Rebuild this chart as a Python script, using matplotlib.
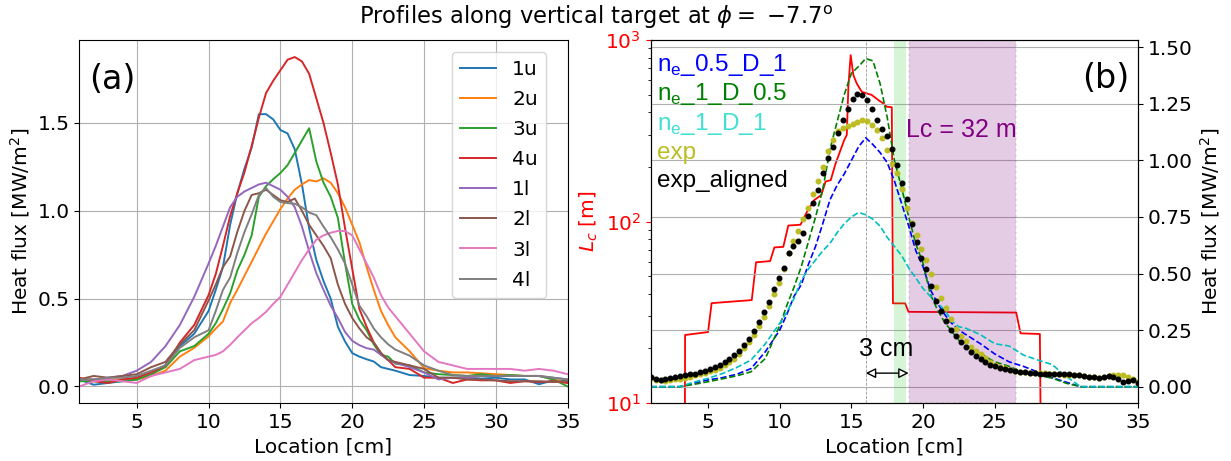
import numpy as np
import matplotlib
matplotlib.use('Agg')
import matplotlib.pyplot as plt

# ---------------- data ----------------
loc = [1, 2, 3, 4, 5, 6, 7, 8, 9, 10,
       10.5, 11, 11.5, 12, 12.5, 13, 13.5, 14, 14.5, 15,
       15.5, 16, 16.5, 17, 17.5, 18, 18.5, 19, 19.5, 20,
       20.5, 21, 21.5, 22, 22.5, 23,
       24, 25, 26, 27, 28, 29, 30, 31, 32, 33, 34, 35]

labels_a = ['1u', '2u', '3u', '4u', '1l', '2l', '3l', '4l']

q_1u = [0.04, 0.01, 0.02, 0.03, 0.04, 0.066, 0.123, 0.23, 0.30, 0.43,
        0.55, 0.68, 0.92, 1.10, 1.24, 1.36, 1.55, 1.55, 1.52, 1.46,
        1.44, 1.35, 1.15, 0.90, 0.72, 0.60, 0.50, 0.34, 0.256, 0.19,
        0.17, 0.155, 0.142, 0.11, 0.10, 0.09,
        0.065, 0.06, 0.05, 0.05, 0.05, 0.045, 0.05, 0.04, 0.04, 0.013, 0.035, 0.03]
q_2u = [0.04, 0.04, 0.04, 0.04, 0.04, 0.06, 0.09, 0.17, 0.22, 0.285,
        0.33, 0.37, 0.475, 0.55, 0.63, 0.71, 0.79, 0.87, 0.94, 1.01,
        1.07, 1.12, 1.15, 1.175, 1.167, 1.185, 1.16, 1.10, 1.02, 0.92,
        0.82, 0.68, 0.55, 0.43, 0.35, 0.28,
        0.20, 0.105, 0.09, 0.08, 0.08, 0.075, 0.07, 0.065, 0.06, 0.06, 0.04, 0.02]
q_3u = [0.03, 0.03, 0.03, 0.03, 0.04, 0.07, 0.11, 0.20, 0.23, 0.30,
        0.36, 0.44, 0.53, 0.66, 0.75, 0.86, 1.08, 1.14, 1.18, 1.215,
        1.26, 1.33, 1.40, 1.47, 1.28, 1.16, 1.08, 0.96, 0.70, 0.47,
        0.38, 0.32, 0.24, 0.18, 0.17, 0.13,
        0.12, 0.08, 0.07, 0.065, 0.06, 0.07, 0.06, 0.065, 0.06, 0.06, 0.04, 0.0]
q_4u = [0.05, 0.03, 0.02, 0.04, 0.05, 0.08, 0.12, 0.25, 0.35, 0.52,
        0.64, 0.80, 0.97, 1.10, 1.22, 1.37, 1.53, 1.67, 1.74, 1.80,
        1.86, 1.875, 1.85, 1.78, 1.64, 1.50, 1.33, 1.15, 0.90, 0.67,
        0.44, 0.34, 0.25, 0.19, 0.15, 0.11,
        0.10, 0.05, 0.05, 0.02, 0.04, 0.035, 0.035, 0.02, 0.03, 0.025, 0.03, 0.02]
q_1l = [0.04, 0.04, 0.05, 0.06, 0.09, 0.14, 0.23, 0.35, 0.51, 0.70,
        0.80, 0.91, 1.02, 1.08, 1.11, 1.13, 1.15, 1.16, 1.14, 1.12,
        1.08, 1.02, 0.91, 0.77, 0.645, 0.55, 0.46, 0.39, 0.31, 0.26,
        0.235, 0.218, 0.21, 0.18, 0.15, 0.135,
        0.11, 0.08, 0.04, 0.05, 0.05, 0.06, 0.06, 0.06, 0.06, 0.06, 0.05, 0.04]
q_2l = [0.04, 0.06, 0.05, 0.06, 0.07, 0.11, 0.14, 0.24, 0.32, 0.49,
        0.58, 0.68, 0.74, 0.88, 1.00, 1.09, 1.10, 1.12, 1.09, 1.06,
        1.05, 1.07, 1.00, 0.92, 0.86, 0.80, 0.73, 0.58, 0.47, 0.39,
        0.33, 0.28, 0.25, 0.19, 0.15, 0.14,
        0.12, 0.10, 0.05, 0.05, 0.04, 0.04, 0.035, 0.03, 0.03, 0.03, 0.025, 0.03]
q_3l = [0.0, 0.03, 0.04, 0.03, 0.02, 0.06, 0.08, 0.10, 0.15, 0.17,
        0.18, 0.20, 0.237, 0.28, 0.32, 0.36, 0.39, 0.425, 0.47, 0.51,
        0.58, 0.65, 0.72, 0.78, 0.835, 0.86, 0.875, 0.885, 0.885, 0.86,
        0.78, 0.70, 0.62, 0.52, 0.45, 0.40,
        0.30, 0.20, 0.14, 0.12, 0.10, 0.10, 0.10, 0.10, 0.09, 0.10, 0.09, 0.07]
q_4l = [0.04, 0.04, 0.05, 0.05, 0.06, 0.09, 0.12, 0.22, 0.28, 0.32,
        0.43, 0.55, 0.62, 0.76, 0.88, 0.98, 1.09, 1.13, 1.08, 1.05,
        1.044, 1.04, 1.02, 0.99, 0.975, 0.91, 0.85, 0.78, 0.70, 0.58,
        0.46, 0.40, 0.33, 0.28, 0.24, 0.21,
        0.175, 0.12, 0.09, 0.065, 0.06, 0.06, 0.06, 0.06, 0.06, 0.06, 0.05, 0.04]

# simulations (panel b)
sim_ne05_D1 = [0, 0, 0, 0.015, 0.03, 0.04, 0.055, 0.08, 0.155, 0.25,
               0.32, 0.40, 0.45, 0.54, 0.62, 0.72, 0.825, 0.89, 0.94, 1.0,
               1.06, 1.10, 1.07, 1.035, 0.99, 0.91, 0.81, 0.71, 0.60, 0.53,
               0.43, 0.37, 0.32, 0.28, 0.25, 0.23,
               0.19, 0.145, 0.11, 0.09, 0.065, 0.04, 0.02, 0, 0, 0, 0, 0]
sim_ne1_D05 = [0, 0, 0, 0.01, 0.022, 0.035, 0.048, 0.066, 0.125, 0.27,
               0.36, 0.44, 0.53, 0.64, 0.75, 0.87, 1.046, 1.17, 1.29, 1.385,
               1.415, 1.45, 1.44, 1.34, 1.19, 1.00, 0.88, 0.75, 0.63, 0.545,
               0.41, 0.34, 0.285, 0.245, 0.205, 0.18,
               0.145, 0.11, 0.09, 0.063, 0.05, 0.038, 0.015, 0, 0, 0, 0, 0]
sim_ne1_D1 = [0, 0, 0, 0.02, 0.037, 0.058, 0.085, 0.118, 0.19, 0.28,
              0.33, 0.39, 0.47, 0.52, 0.56, 0.60, 0.633, 0.68, 0.72, 0.75,
              0.77, 0.76, 0.74, 0.71, 0.66, 0.62, 0.58, 0.525, 0.48, 0.434,
              0.40, 0.37, 0.34, 0.29, 0.265, 0.258,
              0.23, 0.19, 0.18, 0.14, 0.118, 0.098, 0.045, 0, 0, 0, 0, 0]

# connection length
Lc_x = [1.0, 3.35, 3.4, 5.0, 5.25, 8.05, 8.35, 9.33, 9.63, 10.25, 10.6, 11.45,
        11.9, 12.4, 12.9, 13.2, 13.56, 13.9, 14.5, 14.68, 14.79, 14.95, 15.14,
        15.37, 15.72, 16.07, 16.42, 16.88, 17.23, 17.47, 17.82, 17.9, 18.75,
        18.98, 26.5, 26.8, 28.15, 28.3, 35.0]
Lc = [1, 1, 23.7, 24.6, 35.5, 36.9, 59.6, 60.5, 72, 72.5, 95, 96,
      113, 131, 140, 166, 169, 209, 281, 300, 553, 826, 641,
      577, 519, 508, 498, 467, 447, 429, 426, 35.4, 35.4,
      31.8, 31.5, 24.2, 24.0, 1, 1]

# experiment
x_exp = np.linspace(1, 35, 100)
q_exp = [0.037, 0.03, 0.028, 0.027, 0.03, 0.033, 0.036, 0.04, 0.045, 0.05,
         0.055, 0.062, 0.068, 0.075, 0.084, 0.094, 0.107, 0.123, 0.145, 0.17,
         0.198, 0.23, 0.27, 0.31, 0.355, 0.41, 0.46, 0.52, 0.59, 0.645,
         0.69, 0.74, 0.79, 0.85, 0.91, 0.97, 1.04, 1.09, 1.13, 1.145,
         1.15, 1.16, 1.17, 1.177, 1.172, 1.155, 1.135, 1.10, 1.045, 0.985,
         0.945, 0.875, 0.79, 0.725, 0.67, 0.61, 0.56, 0.50, 0.44, 0.39,
         0.35, 0.30, 0.255, 0.225, 0.20, 0.175, 0.16, 0.145, 0.125, 0.11,
         0.098, 0.088, 0.081, 0.076, 0.071, 0.067, 0.064, 0.062, 0.061, 0.06,
         0.059, 0.058, 0.056, 0.054, 0.053, 0.053, 0.052, 0.05, 0.046, 0.044,
         0.042, 0.04, 0.043, 0.048, 0.052, 0.053, 0.05, 0.045, 0.035, 0.022]
q_exp_aligned = [0.044, 0.035, 0.03, 0.035, 0.04, 0.043, 0.046, 0.05, 0.054, 0.058,
                 0.063, 0.07, 0.078, 0.087, 0.097, 0.108, 0.122, 0.14, 0.16, 0.185,
                 0.213, 0.245, 0.285, 0.33, 0.375, 0.43, 0.48, 0.525, 0.59, 0.62,
                 0.645, 0.68, 0.755, 0.81, 0.87, 0.945, 1.01, 1.06, 1.12, 1.18,
                 1.225, 1.27, 1.295, 1.29, 1.265, 1.228, 1.178, 1.14, 1.11, 1.05,
                 0.98, 0.90, 0.83, 0.72, 0.64, 0.57, 0.52, 0.445, 0.38, 0.335,
                 0.29, 0.25, 0.222, 0.198, 0.175, 0.152, 0.135, 0.121, 0.108, 0.098,
                 0.09, 0.083, 0.079, 0.075, 0.071, 0.067, 0.063, 0.061, 0.06, 0.058,
                 0.057, 0.056, 0.056, 0.056, 0.056, 0.055, 0.053, 0.05, 0.047, 0.044,
                 0.042, 0.04, 0.043, 0.048, 0.045, 0.035, 0.022, 0.026, 0.03, 0.015]

# ---------------- figure ----------------
FS = 14.5
ANN = 'Liberation Sans'
fig = plt.figure(figsize=(12.31, 4.61), dpi=100)
axa = fig.add_axes([0.0644, 0.1258, 0.3968, 0.7874])
axb = fig.add_axes([0.5286, 0.1258, 0.3959, 0.7874])
ax2 = axb.twinx()

# panel (a)
series_a = [q_1u, q_2u, q_3u, q_4u, q_1l, q_2l, q_3l, q_4l]
for i, (lab, ser) in enumerate(zip(labels_a, series_a)):
    axa.plot(loc, ser, color='C%d' % i, lw=1.4, label=lab)
axa.set_xlim(1, 35)
axa.set_ylim(-0.094, 1.972)
axa.set_xticks([5, 10, 15, 20, 25, 30, 35])
axa.set_yticks([0.0, 0.5, 1.0, 1.5])
axa.tick_params(labelsize=FS)
axa.grid(True)
axa.set_xlabel('Location [cm]', fontsize=FS)
axa.set_ylabel('Heat flux [MW/m$^2$]', fontsize=FS)
axa.text(0.02, 0.89, '(a)', transform=axa.transAxes, fontsize=24,
         ha='left', va='center')
axa.legend(loc='upper right', bbox_to_anchor=(0.9556, 0.967),
           borderaxespad=0, fontsize=FS, handlelength=1.8, labelspacing=0.55)

# panel (b)
axb.plot(Lc_x, Lc, color='r', lw=1.3)
axb.set_yscale('log')
axb.set_ylim(10, 1000)
axb.set_xlim(1, 35)
axb.set_xticks([5, 10, 15, 20, 25, 30, 35])
axb.tick_params(axis='x', labelsize=FS)
axb.tick_params(axis='y', which='both', labelsize=FS, labelcolor='r')
axb.tick_params(axis='y', which='major', color='r')
axb.set_ylabel('$L_c$ [m]', color='r', fontsize=FS)
axb.set_xlabel('Location [cm]', fontsize=FS)

ax2.grid(True)
ax2.axvspan(18.0, 18.8, facecolor='limegreen', alpha=0.2, lw=0, zorder=1.8)
ax2.axvspan(19.0, 26.5, facecolor='purple', edgecolor='gray', alpha=0.2,
            ls=':', lw=1.5, zorder=1.8)
ax2.axvline(16, color='0.6', ls='--', lw=0.6)
ax2.plot(loc, sim_ne05_D1, color='b', ls='--', lw=1.2)
ax2.plot(loc, sim_ne1_D05, color='g', ls='--', lw=1.2)
ax2.plot(loc, sim_ne1_D1, color='c', ls='--', lw=1.2)
ax2.plot(x_exp, q_exp, 'o', color='tab:olive', ms=3.3, ls='none')
ax2.plot(x_exp, q_exp_aligned, 'o', color='k', ms=3.3, ls='none')
ax2.set_ylim(-0.072, 1.532)
ax2.set_yticks([0.0, 0.25, 0.5, 0.75, 1.0, 1.25, 1.5])
ax2.tick_params(labelsize=FS)
ax2.set_ylabel('Heat flux [MW/m$^2$]', fontsize=FS)

ax2.annotate('', xy=(19, 0.06), xytext=(16, 0.06),
             arrowprops=dict(arrowstyle='<|-|>', fc='white', ec='black',
                             lw=1, mutation_scale=15, shrinkA=0, shrinkB=0))
ax2.text(15.55, 0.167, '3 cm', fontsize=18, family=ANN, ha='left', va='center')
ax2.text(18.8, 1.134, 'Lc = 32 m', fontsize=18, family=ANN, color='purple',
         ha='left', va='center')
ax2.text(0.885, 0.893, '(b)', transform=ax2.transAxes, fontsize=24,
         ha='left', va='center')

tx = [r'n$_\mathregular{e}$_0.5_D_1', r'n$_\mathregular{e}$_1_D_0.5',
      r'n$_\mathregular{e}$_1_D_1', 'exp', 'exp_aligned']
tc = ['b', 'g', 'turquoise', 'tab:olive', 'k']
ty = [0.915, 0.835, 0.752, 0.672, 0.596]
for t, c, yy in zip(tx, tc, ty):
    ax2.text(0.013, yy, t, color=c, fontsize=17.5, family=ANN,
             transform=ax2.transAxes, ha='left', va='baseline')

fig.text(0.484, 0.963, r'Profiles along vertical target at $\phi=$ $-7.7^\mathrm{o}$',
         ha='center', va='center', fontsize=16.3)

fig.savefig('out.png', dpi=100)
